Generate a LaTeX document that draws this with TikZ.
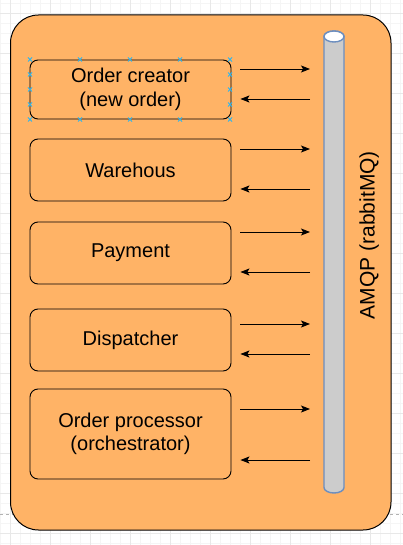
\documentclass[tikz,border=0pt]{standalone}
\usepackage{fontspec}
\setmainfont{Liberation Sans}
\usepackage{xcolor}
\usetikzlibrary{arrows.meta,positioning}
\definecolor{orangefill}{HTML}{FFB366}
\definecolor{mqfill}{HTML}{CCCCCC}
\definecolor{mqline}{HTML}{6C8EBF}
\definecolor{handle}{HTML}{29B6F2}
\begin{document}
\begin{tikzpicture}[x=1pt, y=1pt,
  every node/.style={font=\fontsize{20}{23.5}\selectfont},
  minorgrid/.style={draw=black!4, line width=0.6pt},
  majorgrid/.style={draw=black!9, line width=0.6pt},
  container/.style={draw, line width=1pt, fill=orangefill, rounded corners=28pt},
  svc/.style={draw, line width=0.9pt, fill=orangefill, rounded corners=8pt, align=center,
              minimum width=201, inner sep=0pt},
  mqbody/.style={draw=mqline, line width=1.4pt, fill=mqfill},
  arr/.style={-{Stealth[length=9pt, width=7pt, inset=2pt]}, line width=0.9pt}
]
\useasboundingbox (0,0) rectangle (403,-545);
\fill[white] (0,0) rectangle (403,-545);
\foreach \x in {0,10,...,400}
  \draw[minorgrid] (\x,0) -- (\x,-545);
\foreach \y in {3,13,...,543}
  \draw[minorgrid] (0,-\y) -- (403,-\y);
\foreach \x in {10,50,...,400}
  \draw[majorgrid] (\x,0) -- (\x,-545);
\foreach \y in {13,53,...,543}
  \draw[majorgrid] (0,-\y) -- (403,-\y);
\draw[black!30, dashed, line width=0.8pt] (0,-514) -- (403,-514);

\draw[container] (10.5,-15) rectangle (391,-530);

\node[svc, minimum height=59] (b1) at (130.5,-89.5)  {Order creator\\(new order)};
\node[svc, minimum height=62] (b2) at (130.5,-170)   {Warehous};
\node[svc, minimum height=62] (b3) at (130.5,-253)   {Payment};
\node[svc, minimum height=62] (b4) at (130.5,-340)   {Dispatcher};
\node[svc, minimum height=90] (b5) at (130.5,-434)   {Order processor\\(orchestrator)};

\foreach \px in {30,80,130,180,230}
  \foreach \py in {59.5,119.5}
    \draw[handle, line width=0.8pt] (\px-2,-\py-2) -- (\px+2,-\py+2) (\px-2,-\py+2) -- (\px+2,-\py-2);
\foreach \px in {30,230}
  \foreach \py in {74.5,89.5,104.5}
    \draw[handle, line width=0.8pt] (\px-2,-\py-2) -- (\px+2,-\py+2) (\px-2,-\py+2) -- (\px+2,-\py-2);

\node[minimum width=20, minimum height=462, inner sep=0pt, outer sep=0pt] (mq) at (334,-262) {};
\draw[mqbody] (324,-36.5) -- (324,-487.5) arc (180:360:10 and 5.5) -- (344,-36.5) arc (0:180:10 and 5.5) -- cycle;
\draw[mqbody, fill=white] (334,-36.5) ellipse (10 and 5.5);
\node[rotate=90, anchor=base, font=\fontsize{21}{24}\selectfont] (mqlabel) at (374.5,-235) {AMQP (rabbitMQ)};

\foreach \n/\yo/\yi in {1/69/99, 2/149/189, 3/232/272, 4/324/354, 5/409/460} {
  \draw[arr, shorten <=9pt, shorten >=14pt] (b\n.east |- 0,-\yo) -- (mq.west |- 0,-\yo);
  \draw[arr, shorten <=14pt, shorten >=9pt] (mq.west |- 0,-\yi) -- (b\n.east |- 0,-\yi);
}
\end{tikzpicture}
\end{document}
